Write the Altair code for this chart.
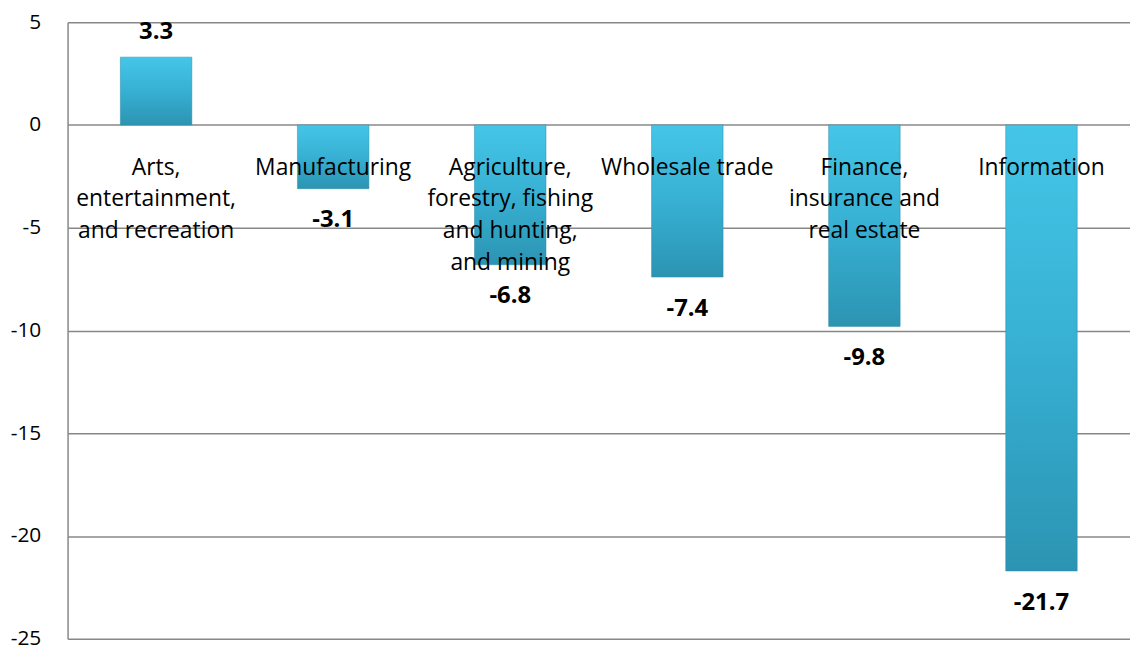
import altair as alt
import pandas as pd

categories = ["Arts, entertainment, and recreation", "Manufacturing",
              "Agriculture, forestry, fishing and hunting, and mining",
              "Wholesale trade", "Finance, insurance and real estate", "Information"]
labels = ["Arts,\nentertainment,\nand recreation", "Manufacturing",
          "Agriculture,\nforestry, fishing\nand hunting,\nand mining",
          "Wholesale trade", "Finance,\ninsurance and\nreal estate", "Information"]
values = [3.3, -3.1, -6.8, -7.4, -9.8, -21.7]
yticks = [5, 0, -5, -10, -15, -20, -25]

df = pd.DataFrame({"cat": categories, "label": labels, "value": values})
df["vlabel"] = [f"{v:.1f}" for v in values]
df["zero"] = 0

FONT = "Open Sans"

x = alt.X("cat:N", sort=categories, axis=None,
          scale=alt.Scale(paddingInner=0, paddingOuter=0))
yscale = alt.Scale(domain=[-25, 5], nice=False)

base = alt.Chart(df)

bars = base.mark_bar(
    size=72,
    color=alt.Gradient(
        gradient="linear", x1=0, y1=0, x2=0, y2=1,
        stops=[alt.GradientStop(color="#44c6e8", offset=0),
               alt.GradientStop(color="#37b0d3", offset=0.5),
               alt.GradientStop(color="#2c94b2", offset=1)]),
    stroke="#2a8aa8", strokeWidth=0.5,
).encode(
    x=x,
    y=alt.Y("value:Q", scale=yscale, title=None,
            axis=alt.Axis(values=yticks, labelFontSize=21, labelExpr="datum.value + ''",
                          labelFont=FONT, labelColor="#000", labelPadding=27,
                          ticks=False, domainColor="#888", domainWidth=1.5,
                          gridColor="#888", gridWidth=1.5, grid=True)),
    y2=alt.Y2("zero:Q"),
)

catlabels = base.mark_text(
    font=FONT, fontSize=23, color="#000", baseline="top", align="center",
    lineBreak="\n", lineHeight=32, dy=32,
).encode(x=x, y=alt.Y("zero:Q", scale=yscale), text="label:N")

pos = base.transform_filter("datum.value >= 0").mark_text(
    font=FONT, fontSize=24, fontWeight="bold", color="#000", baseline="middle", dy=-25,
).encode(x=x, y=alt.Y("value:Q", scale=yscale), text="vlabel:N")

neg = base.transform_filter("datum.value < 0").mark_text(
    font=FONT, fontSize=24, fontWeight="bold", color="#000", baseline="middle", dy=32,
).encode(x=x, y=alt.Y("value:Q", scale=yscale), text="vlabel:N")

chart = alt.layer(bars, catlabels, pos, neg).properties(
    width=1070, height=621,
    autosize=alt.AutoSizeParams(type="none"),
    padding={"left": 60, "top": 12, "right": 0, "bottom": 12},
).configure_view(stroke=None).configure_axis(labelFont=FONT)

chart.save("out.html", embed_options={"renderer": "svg", "actions": False})
